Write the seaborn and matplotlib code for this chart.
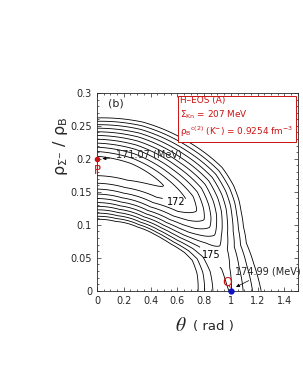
import numpy as np
import matplotlib
matplotlib.use("Agg")
import matplotlib.pyplot as plt
import seaborn as sns
from matplotlib.ticker import MultipleLocator

sns.set_style("ticks")
plt.rcParams['font.family'] = ['DejaVu Sans']

# valley of the energy surface
# (angle in the scaled plane u = theta, v = rho / 0.2)
phi_nodes = [0, 10, 18, 24, 29, 33, 38, 45, 58, 75, 90]
valley_E = [174.99, 174.92, 174.7, 174.2, 173.6, 173.1, 172.6, 172.0, 171.5, 171.15, 171.07]
valley_r = [1.0, 0.99, 0.98, 0.975, 0.97, 0.965, 0.96, 0.955, 0.94, 0.96, 0.98]
wall_in = [19.0, 22.0, 25.0, 26.0, 27.0, 28.0, 29.0, 30.0, 30.0, 26.0, 24.0]
wall_out = [9.0, 11.0, 13.0, 14.0, 14.5, 14.5, 14.5, 15.0, 16.0, 18.0, 20.5]

levels = [171.5, 172.0, 172.5, 173.0, 173.5, 174.0, 174.5, 175.0, 175.5, 176.0, 176.5]
labelled = [172.0, 175.0]
label_pos = [(0.60, 0.140), (0.88, 0.057)]

P = (0.0, 0.2, 171.07)
Q = (1.0, 0.0, 174.99)

# energy surface on a grid
theta = np.linspace(0, 1.5, 451)
rho = np.linspace(0, 0.3, 361)
T, R = np.meshgrid(theta, rho)
u, v = T, R / 0.2
r = np.hypot(u, v)
phi = np.degrees(np.arctan2(v, u))
Ev = np.interp(phi, phi_nodes, valley_E)
rv = np.interp(phi, phi_nodes, valley_r)
ain = np.interp(phi, phi_nodes, wall_in)
aout = np.interp(phi, phi_nodes, wall_out)
d = r - rv
E = Ev + np.where(d > 0, aout * np.abs(d) ** 1.2, ain * np.abs(d) ** 1.8)

fig = plt.figure(figsize=(3.03, 3.92), dpi=100)
ax = fig.add_axes([0.32, 0.258, 0.663, 0.505])

plain = [lv for lv in levels if lv not in labelled]
ax.contour(T, R, E, levels=plain, colors="black", linewidths=0.6)
cs = ax.contour(T, R, E, levels=labelled, colors="black", linewidths=0.6)
labels = ax.clabel(cs, manual=label_pos, fmt="%g", fontsize=7, inline=True)
for t in labels:
    t.set_rotation(0)

ax.set_xlim(0, 1.5)
ax.set_ylim(0, 0.3)
ax.xaxis.set_minor_locator(MultipleLocator(0.05))
ax.yaxis.set_minor_locator(MultipleLocator(0.01))
ax.set_xticks(np.arange(0, 1.41, 0.2))
ax.set_xticklabels(["0", "0.2", "0.4", "0.6", "0.8", "1", "1.2", "1.4"])
ax.set_yticks(np.arange(0, 0.301, 0.05))
ax.set_yticklabels(["0", "0.05", "0.1", "0.15", "0.2", "0.25", "0.3"])
ax.tick_params(which="both", direction="in", top=True, right=True, labelsize=7, width=0.5)
ax.tick_params(which="major", length=3)
ax.tick_params(which="minor", length=1.5)
for s in ax.spines.values():
    s.set_linewidth(0.6)

red = "#cc1111"
ax.plot(P[0], P[1], "o", color=red, ms=3, clip_on=False, zorder=5)
ax.plot(Q[0], Q[1], "o", color="#1010c0", ms=3.5, clip_on=False, zorder=5)
ax.text(P[0], P[1] - 0.007, "P", color=red, fontsize=8.5, ha="center", va="top", zorder=6)
ax.text(Q[0] - 0.025, Q[1] + 0.004, "Q", color=red, fontsize=9, ha="center", va="bottom")
ax.annotate("%.2f (MeV)" % P[2], xy=(P[0] + 0.02, P[1]), xytext=(0.14, 0.206),
            fontsize=7, va="center",
            arrowprops=dict(arrowstyle="-|>", lw=0.5, color="black", mutation_scale=5))
ax.annotate("%.2f (MeV)" % Q[2], xy=(Q[0] + 0.02, Q[1] + 0.004), xytext=(1.03, 0.03),
            fontsize=7, va="center",
            arrowprops=dict(arrowstyle="-|>", lw=0.5, color="black", mutation_scale=5))

ax.text(0.08, 0.284, "(b)", fontsize=8, va="center")
ax.text(0.415, 0.982,
        "H\u2013EOS (A)\n\u03a3$_{\\mathrm{Kn}}$ = 207 MeV\n"
        "\u03c1$_{\\mathrm{B}}$$^{\\mathrm{c(2)}}$ (K$^{-}$) = 0.9254 fm$^{-3}$",
        transform=ax.transAxes, color=red, fontsize=6.4, va="top", ha="left", linespacing=1.35,
        bbox=dict(boxstyle="square,pad=0.3", fc="white", ec=red, lw=0.7))

ax.text(-0.18, 0.73, "\u03c1$_{\\mathrm{\\Sigma^{-}}}$ / \u03c1$_{\\mathrm{B}}$", transform=ax.transAxes,
        rotation=90, fontsize=11.5, ha="center", va="center")
ax.text(0.448, -0.175, "$\\theta$", transform=ax.transAxes, fontsize=14,
        ha="right", va="center", math_fontfamily="stix")
ax.text(0.478, -0.18, "( rad )", transform=ax.transAxes, fontsize=9.5, ha="left", va="center")

fig.savefig("out.png", dpi=100)
